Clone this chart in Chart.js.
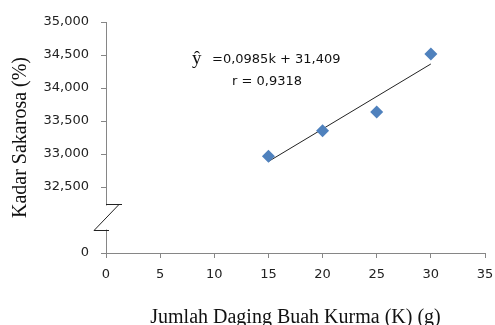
<!DOCTYPE html>
<html lang="id">
<head>
<meta charset="UTF-8">
<title>Kadar Sakarosa</title>
<script src="https://cdn.jsdelivr.net/npm/chart.js"></script>
<style>
  body { margin: 0; background: #fff; }
  #wrap { width: 495px; height: 325px; }
</style>
</head>
<body>
<div id="wrap"><canvas id="chart"></canvas></div>
<script>
// jumlah daging buah kurma (g)
const kurma = [15, 20, 25, 30];
// kadar sakarosa (%)
const sakarosa = [32.965, 33.353, 33.636, 34.515];
// garis regresi: y = 0,0985k + 31,409
const slope = 0.0985;
const intercept = 31.409;
const trendK = [15, 30];
const xTicks = [0, 5, 10, 15, 20, 25, 30, 35];
// 31.5 is the bottom of the broken axis, shown as "0"
const yTicks = [31.5, 32.5, 33, 33.5, 34, 34.5, 35];
const yTickLabels = ['0', '32,500', '33,000', '33,500', '34,000', '34,500', '35,000'];

const axisColor = '#868686';
const tickFont = { family: 'DejaVu Sans', size: 13 };

// draws the zigzag break on the y axis
const axisBreak = {
  id: 'axisBreak',
  afterDraw(chart) {
    const ctx = chart.ctx;
    const x0 = chart.chartArea.left;
    const top = Math.round(chart.scales.y.getPixelForValue(32.25)) + 0.5;
    const bot = Math.round(chart.scales.y.getPixelForValue(31.85)) + 0.5;
    ctx.save();
    ctx.fillStyle = '#fff';
    ctx.fillRect(x0 - 8, top + 1, 16, bot - top - 2);
    ctx.strokeStyle = '#222';
    ctx.lineWidth = 1;
    ctx.beginPath();
    ctx.moveTo(x0, top);
    ctx.lineTo(x0 + 16, top);
    ctx.moveTo(x0 + 13, top);
    ctx.lineTo(x0 - 12, bot);
    ctx.lineTo(x0 + 3, bot);
    ctx.stroke();
    ctx.restore();
  }
};

// regression equation text
const equation = {
  id: 'equation',
  afterDraw(chart) {
    const ctx = chart.ctx;
    const a = chart.chartArea;
    ctx.save();
    ctx.fillStyle = '#111';
    ctx.textBaseline = 'middle';
    ctx.textAlign = 'left';
    ctx.font = '19px "Liberation Serif"';
    ctx.fillText('\u0177', a.left + 86, 59);
    ctx.font = '13px "DejaVu Sans"';
    ctx.fillText('=0,0985k + 31,409', a.left + 106, 60);
    ctx.fillText('r = 0,9318', a.left + 126, 82);
    ctx.restore();
  }
};

new Chart(document.getElementById('chart'), {
  type: 'scatter',
  data: {
    datasets: [{
      label: 'Kadar Sakarosa',
      data: kurma.map((k, i) => ({ x: k, y: sakarosa[i] })),
      pointStyle: 'rectRot',
      pointRadius: 6.5,
      pointHoverRadius: 6.5,
      backgroundColor: '#4f81bd',
      borderColor: '#4f81bd',
      borderWidth: 0
    }, {
      label: 'Linear',
      data: trendK.map(k => ({ x: k, y: intercept + slope * k })),
      showLine: true,
      pointRadius: 0,
      borderColor: '#222',
      borderWidth: 1
    }]
  },
  options: {
    responsive: true,
    maintainAspectRatio: false,
    animation: false,
    layout: { padding: { top: 22, right: 10, left: 0, bottom: 0 } },
    plugins: {
      legend: { display: false },
      tooltip: { enabled: false }
    },
    scales: {
      x: {
        type: 'linear',
        min: 0,
        max: 35,
        afterBuildTicks: s => { s.ticks = xTicks.map(v => ({ value: v })); },
        afterFit: s => { s.height = 72; s.paddingLeft = 0; s.paddingRight = 0; },
        grid: { drawOnChartArea: false, color: axisColor, tickLength: 5 },
        border: { color: axisColor },
        ticks: { color: '#222', font: tickFont, padding: 9, maxRotation: 0 },
        title: {
          display: true,
          text: 'Jumlah Daging Buah Kurma (K) (g)',
          color: '#111',
          font: { family: 'Liberation Serif', size: 20, lineHeight: '14px' },
          padding: { top: 0, bottom: 0 }
        }
      },
      y: {
        type: 'linear',
        min: 31.5,
        max: 35,
        afterBuildTicks: s => { s.ticks = yTicks.map(v => ({ value: v })); },
        afterFit: s => { s.width = 106; s.paddingTop = 0; s.paddingBottom = 0; },
        grid: { drawOnChartArea: false, color: axisColor, tickLength: 5 },
        border: { color: axisColor },
        ticks: {
          color: '#222',
          font: tickFont,
          padding: 12,
          callback: (v) => yTickLabels[yTicks.indexOf(v)]
        },
        title: {
          display: true,
          text: 'Kadar Sakarosa (%)',
          color: '#111',
          font: { family: 'Liberation Serif', size: 20, lineHeight: '24px' },
          padding: { top: 9, bottom: 0 }
        }
      }
    }
  },
  plugins: [axisBreak, equation]
});
</script>
</body>
</html>
